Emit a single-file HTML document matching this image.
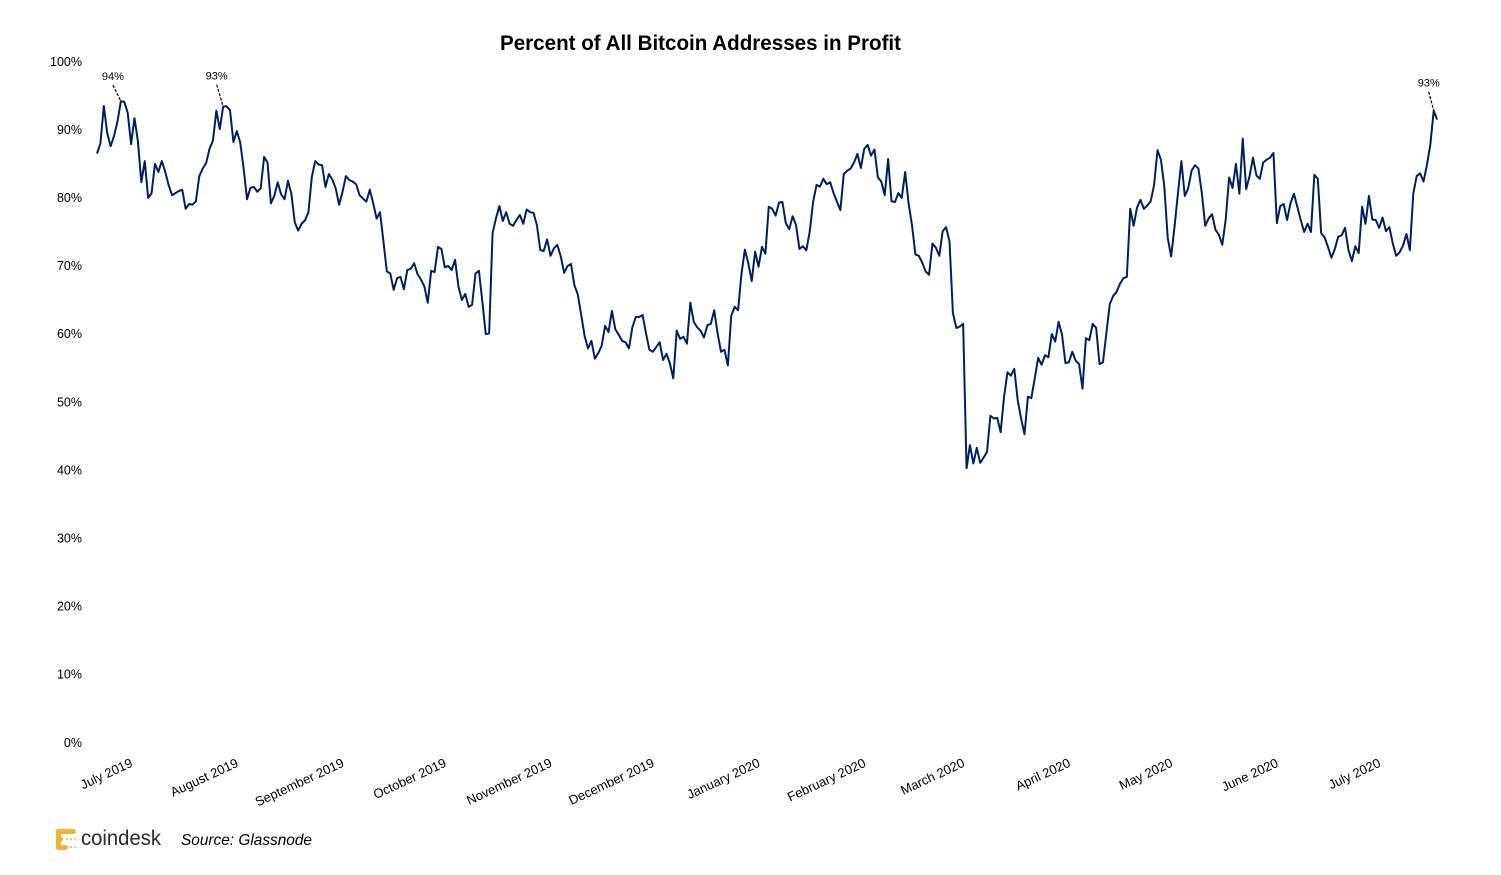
<!DOCTYPE html>
<html>
<head>
<meta charset="utf-8">
<title>Percent of All Bitcoin Addresses in Profit</title>
<style>
html,body{margin:0;padding:0;background:#fff;}
svg{display:block;font-family:"Liberation Sans",sans-serif;}
</style>
</head>
<body>
<svg id="chart" xmlns="http://www.w3.org/2000/svg" width="1501" height="875" viewBox="0 0 1501 875">
  <rect x="0" y="0" width="1501" height="875" fill="#ffffff"/>
  <text x="500" y="50" font-size="21" font-weight="bold" fill="#000" textLength="401" lengthAdjust="spacingAndGlyphs">Percent of All Bitcoin Addresses in Profit</text>
  <g id="y-axis"></g>
  <g id="x-axis"></g>
  <path id="series" fill="none" stroke="#002060" stroke-width="2" stroke-linejoin="round"/>
  <g id="notes"></g>
  <g>
    <g fill="#f5b335">
      <rect x="56" y="829" width="20" height="5" rx="2.5"/>
      <rect x="56" y="829" width="5" height="21" rx="2.5"/>
      <rect x="56" y="845" width="12" height="5" rx="2.5"/>
      <rect x="56" y="837" width="7" height="4.5" rx="2.2"/>
      <circle cx="67" cy="839" r="1"/>
      <circle cx="71" cy="839" r="1"/>
      <circle cx="75" cy="839" r="0.9"/>
      <circle cx="71" cy="847" r="1"/>
      <circle cx="75" cy="847" r="0.9"/>
    </g>
    <text x="81" y="845" font-size="21" fill="#2b2b2b" textLength="80" lengthAdjust="spacingAndGlyphs">coindesk</text>
  </g>
  <text x="181" y="845" font-size="16" font-style="italic" fill="#000" textLength="131" lengthAdjust="spacingAndGlyphs">Source: Glassnode</text>
</svg>
<script>
const values = [
86.4,87.9,93.4,89.4,87.5,89.0,91.1,94.1,94.0,92.4,87.8,91.6,88.2,82.2,85.3,79.9,80.6,84.9,83.7,85.3,
83.75,81.8,80.3,80.6,80.9,81.1,78.3,79.0,78.9,79.4,83.1,84.2,85.0,87.1,88.3,92.7,90.0,93.3,93.35,92.8,
88.1,89.7,88.05,84.2,79.7,81.4,81.5,80.8,81.3,85.9,85.1,79.1,80.2,82.2,80.4,79.7,82.4,80.5,76.3,75.1,
76.1,76.6,77.8,83.0,85.3,84.8,84.7,81.5,83.4,82.6,81.3,78.9,80.8,83.1,82.5,82.3,81.9,80.3,79.8,79.35,
81.1,79.1,76.85,77.8,73.5,69.1,68.8,66.4,68.1,68.3,66.5,69.3,69.5,70.3,68.7,67.9,66.9,64.5,69.2,69.0,
72.7,72.4,69.7,69.9,69.3,70.8,66.9,64.9,65.8,63.9,64.2,68.8,69.2,64.7,59.9,60.0,74.7,76.9,78.7,76.5,
77.8,76.1,75.8,76.65,77.4,76.1,78.2,77.8,77.7,75.9,72.25,72.1,73.8,71.4,72.5,73.0,71.3,68.9,69.9,70.2,
67.1,65.7,62.7,59.6,57.8,58.9,56.3,57.1,58.2,61.1,60.2,63.3,60.6,59.8,58.9,58.7,57.8,60.9,62.4,62.4,
62.7,60.0,57.6,57.3,58.0,58.7,56.1,57.0,55.6,53.4,60.4,59.2,59.5,58.5,64.5,61.7,60.9,60.4,59.4,61.2,
61.4,63.4,60.0,57.3,57.6,55.3,62.6,63.9,63.4,68.8,72.3,70.3,67.7,72.0,69.8,72.7,71.7,78.6,78.3,77.3,
79.2,79.3,76.2,75.3,77.2,75.9,72.4,72.8,72.2,74.9,79.3,81.8,81.55,82.7,81.9,82.2,80.6,79.35,78.1,83.4,
83.9,84.2,85.1,86.35,84.3,87.1,87.67,86.1,87.0,82.9,82.3,80.3,85.6,79.4,79.3,80.6,79.9,83.7,79.1,75.9,
71.6,71.4,70.4,69.1,68.6,73.2,72.6,71.4,75.0,75.6,73.5,63.0,60.8,61.0,61.4,40.2,43.6,40.9,43.2,41.0,
41.75,42.6,47.9,47.5,47.6,45.5,50.7,54.3,53.8,54.8,50.2,47.5,45.2,50.7,50.5,53.4,56.4,55.4,56.8,56.5,
59.9,58.8,61.7,59.8,55.65,55.75,57.3,56.0,55.5,51.9,59.3,59.0,61.4,60.8,55.5,55.75,60.0,64.3,65.5,66.1,
67.3,68.1,68.3,78.3,75.8,78.5,79.6,78.3,78.8,79.4,81.8,86.9,85.5,81.55,74.0,71.3,75.7,80.6,85.3,80.2,
81.3,83.9,84.7,84.2,80.6,75.8,76.9,77.5,75.2,74.5,73.0,76.7,82.9,81.35,84.9,80.5,88.6,81.2,83.1,85.8,
83.2,82.7,85.1,85.5,85.8,86.5,76.2,78.7,79.0,76.65,79.1,80.5,78.6,76.65,74.9,76.1,74.9,83.3,82.7,74.7,
74.1,72.7,71.1,72.4,74.2,74.4,75.5,72.25,70.6,72.8,71.8,78.6,76.1,80.2,76.7,76.65,75.5,77.0,75.0,75.6,
73.2,71.4,71.9,72.9,74.6,72.25,80.5,83.1,83.5,82.3,84.7,87.7,92.7,91.4
];
const yTicks = [0,10,20,30,40,50,60,70,80,90,100];
const monthLabels = ["July 2019","August 2019","September 2019","October 2019","November 2019","December 2019","January 2020","February 2020","March 2020","April 2020","May 2020","June 2020","July 2020"];
const monthStartDays = [0,31,62,92,123,153,184,215,244,275,305,336,366];
const noteDays = [7,37,392];
const noteLabels = ["94%","93%","93%"];

const NS = "http://www.w3.org/2000/svg";
function xScale(day){ return 97 + 3.41 * day; }
function yScale(v){ return 742 - 6.81 * v; }

let d = "";
values.forEach(function(v,i){
  d += (i ? "L" : "M") + xScale(i).toFixed(2) + " " + yScale(v).toFixed(2);
});
document.getElementById("series").setAttribute("d", d);

const yAxis = document.getElementById("y-axis");
yTicks.forEach(function(t){
  const el = document.createElementNS(NS,"text");
  
  
  el.setAttribute("x", 82);
  el.setAttribute("y", yScale(t) + 4.8);
  el.setAttribute("text-anchor", "end");
  el.setAttribute("font-size", "12.5");
  el.setAttribute("fill", "#000");
  el.textContent = t + "%";
  yAxis.appendChild(el);
});

const xAxis = document.getElementById("x-axis");
monthLabels.forEach(function(label,i){
  const el = document.createElementNS(NS,"text");
  const px = xScale(monthStartDays[i]) + 36.5;
  const py = 766;
  
  
  el.setAttribute("x", px);
  el.setAttribute("y", py);
  el.setAttribute("text-anchor", "end");
  el.setAttribute("font-size", "13");
  el.setAttribute("fill", "#000");
  el.setAttribute("transform", "rotate(-25 " + px + " " + py + ")");
  el.textContent = label;
  xAxis.appendChild(el);
});

const notes = document.getElementById("notes");
const leaderDx = [-8,-6.5,-5];
const leaderDy = [-16,-22,-19];
noteDays.forEach(function(day,i){
  const px = xScale(day);
  const py = yScale(values[day]);
  const line = document.createElementNS(NS,"line");
  
  
  line.setAttribute("x1", px + leaderDx[i]);
  line.setAttribute("y1", py + leaderDy[i]);
  line.setAttribute("x2", px);
  line.setAttribute("y2", py);
  line.setAttribute("stroke", "#000");
  line.setAttribute("stroke-width", "1.2");
  line.setAttribute("stroke-dasharray", "3 1.5");
  notes.appendChild(line);
  const txt = document.createElementNS(NS,"text");
  
  
  txt.setAttribute("x", px + leaderDx[i]);
  txt.setAttribute("y", py + leaderDy[i] - 5);
  txt.setAttribute("text-anchor", "middle");
  txt.setAttribute("font-size", "11");
  txt.setAttribute("fill", "#000");
  txt.textContent = noteLabels[i];
  notes.appendChild(txt);
});
</script>
</body>
</html>
